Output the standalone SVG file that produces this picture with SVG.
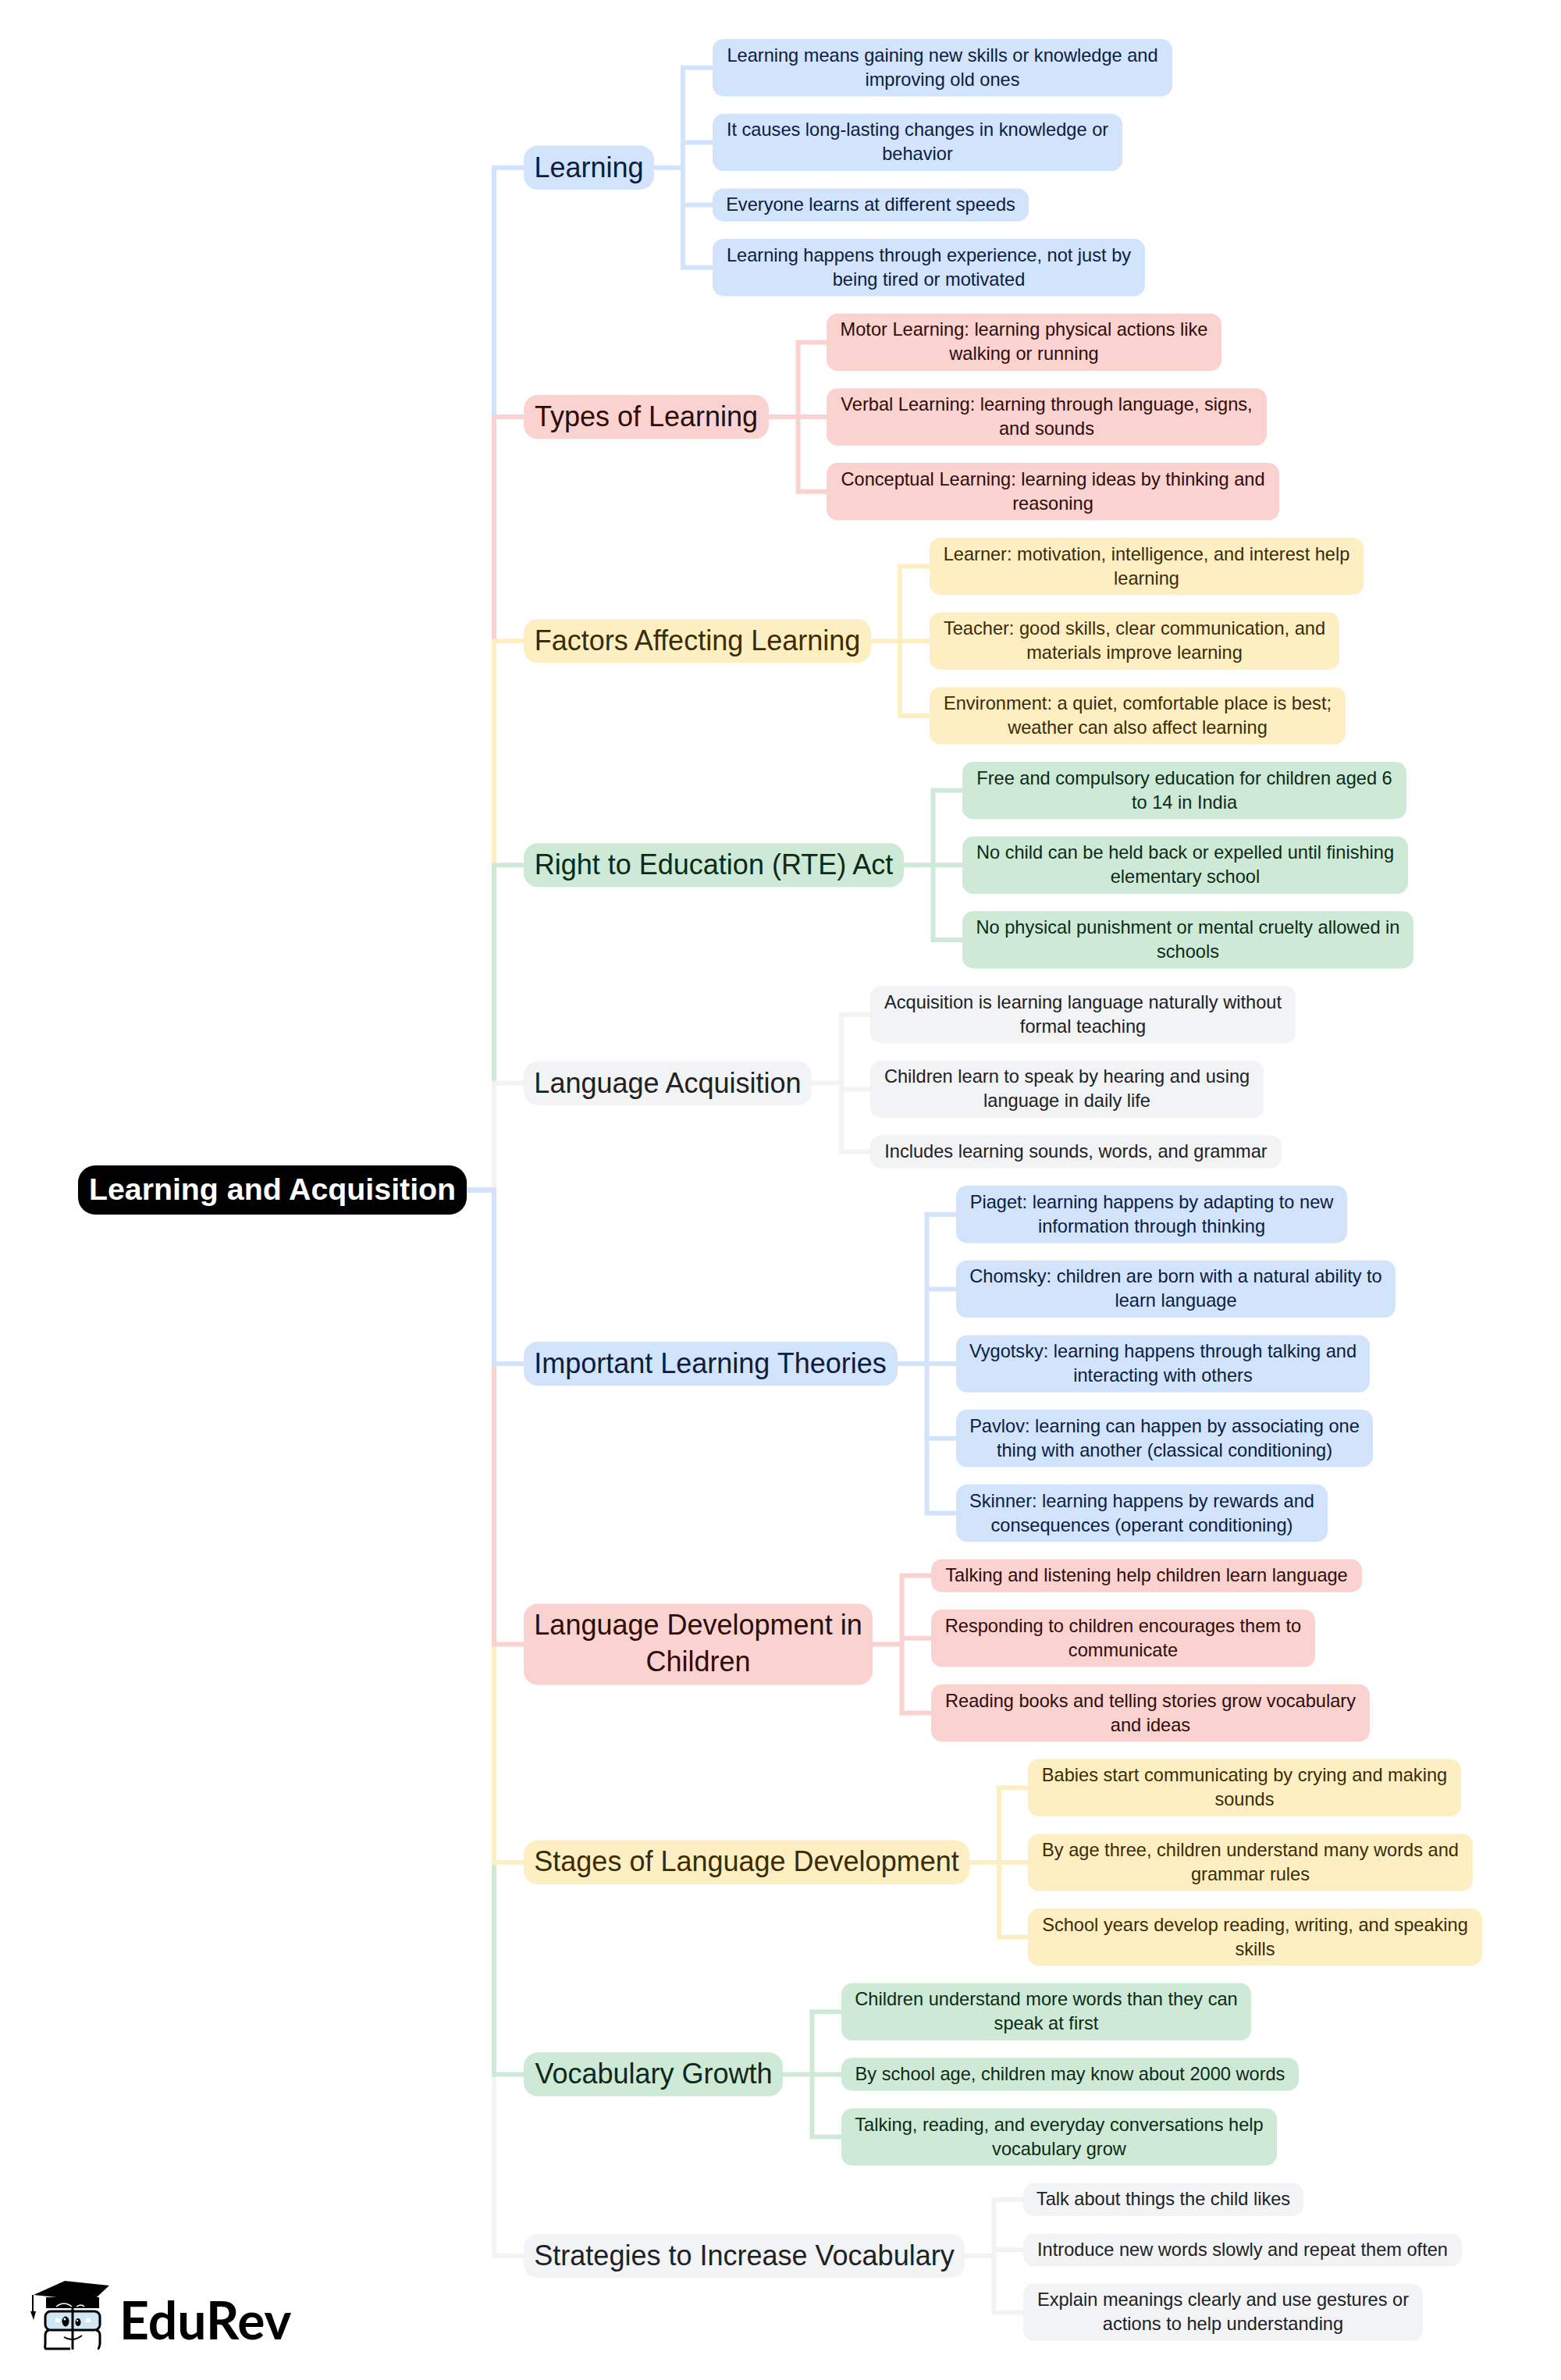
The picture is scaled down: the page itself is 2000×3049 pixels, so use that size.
<svg xmlns="http://www.w3.org/2000/svg" width="2000" height="3049" viewBox="0 0 2000 3049">
<style>
text{font-family:"Liberation Sans",Arial,sans-serif;text-anchor:middle}
.l{font-size:23.6px}.b{font-size:36px}
.root{font-size:39.3px;font-weight:700;fill:#fff}
.c{fill:none;stroke-width:6}
.cb{stroke:#d2e3fc}.cp{stroke:#fad2cf}.cy{stroke:#feefc3}.cg{stroke:#ceead6}.cn{stroke:#f1f3f4}
.nb rect{fill:#d2e3fc}.nb text{fill:#0b1d40}
.np rect{fill:#fad2cf}.np text{fill:#2e0d09}
.ny rect{fill:#feefc3}.ny text{fill:#3a2c05}
.ng rect{fill:#ceead6}.ng text{fill:#0d2a17}
.nn rect{fill:#f1f3f4}.nn text{fill:#202124}
</style>
<rect width="2000" height="3049" fill="#fff"/>
<g id="connectors">
<path class="c cb" d="M598 1524.500H633V214.700H671"/>
<path class="c cp" d="M598 1524.500H633V534.100H671"/>
<path class="c cy" d="M598 1524.500H633V821.200H671"/>
<path class="c cg" d="M598 1524.500H633V1108.300H671"/>
<path class="c cn" d="M598 1524.500H633V1387.600H671"/>
<path class="c cn" d="M598 1524.500H633V2890H671"/>
<path class="c cg" d="M598 1524.500H633V2657.400H671"/>
<path class="c cy" d="M598 1524.500H633V2385.900H671"/>
<path class="c cp" d="M598 1524.500H633V2106.500H671"/>
<path class="c cb" d="M598 1524.500H633V1747.100H671"/>
<path class="c cb" d="M838 214.700H875M913 86.700H875V342.700H913M875 182.400H913M875 262.500H913"/>
<path class="c cp" d="M985 534.100H1059M1059 438.400H1022.500V629.800H1059"/>
<path class="c cy" d="M1116 821.200H1191M1191 725.500H1153V916.900H1191"/>
<path class="c cg" d="M1158 1108.300H1233M1233 1012.600H1195.500V1204H1233"/>
<path class="c cn" d="M1040 1387.600H1078M1115 1299.700H1078V1475.500H1115M1078 1395.400H1115"/>
<path class="c cb" d="M1150 1747.100H1225M1225 1555.700H1187.500V1938.500H1225M1187.500 1651.400H1225M1187.500 1842.800H1225"/>
<path class="c cp" d="M1118 2106.500H1155.500M1193 2018.600H1155.500V2194.500H1193M1155.500 2098.800H1193"/>
<path class="c cy" d="M1242 2385.900H1317M1317 2290.200H1280V2481.600H1317"/>
<path class="c cg" d="M1003 2657.400H1078M1078 2577.300H1040.500V2737.600H1078"/>
<path class="c cn" d="M1236 2890H1273.500M1311 2817.700H1273.500V2962.500H1311M1273.500 2882.300H1311"/>
</g>
<g id="root"><rect x="100" y="1493" width="498" height="63" rx="22" fill="#000"/><text class="root" x="349" y="1537">Learning and Acquisition</text></g>

<g id="learning" class="nb"><rect x="671" y="186.600" width="167" height="56.300" rx="18"/><text class="b" x="754.5" y="226.500">Learning</text></g>
<g id="l1" class="nb"><rect x="913" y="50" width="589" height="73.400" rx="14"/><text class="l" x="1207.500" y="78.700">Learning means gaining new skills or knowledge and</text><text class="l" x="1207.500" y="109.700">improving old ones</text></g>
<g id="l2" class="nb"><rect x="913" y="145.700" width="525" height="73.400" rx="14"/><text class="l" x="1175.500" y="174.400">It causes long-lasting changes in knowledge or</text><text class="l" x="1175.500" y="205.400">behavior</text></g>
<g id="l3" class="nb"><rect x="913" y="241.400" width="405" height="42.300" rx="14"/><text class="l" x="1115.500" y="270.100">Everyone learns at different speeds</text></g>
<g id="l4" class="nb"><rect x="913" y="306" width="554" height="73.400" rx="14"/><text class="l" x="1190" y="334.700">Learning happens through experience, not just by</text><text class="l" x="1190" y="365.700">being tired or motivated</text></g>

<g id="types" class="np"><rect x="671" y="506" width="314" height="56.300" rx="18"/><text class="b" x="828" y="545.800">Types of Learning</text></g>
<g id="t1" class="np"><rect x="1059" y="401.700" width="506" height="73.400" rx="14"/><text class="l" x="1312" y="430.400">Motor Learning: learning physical actions like</text><text class="l" x="1312" y="461.400">walking or running</text></g>
<g id="t2" class="np"><rect x="1059" y="497.400" width="564" height="73.400" rx="14"/><text class="l" x="1341" y="526.100">Verbal Learning: learning through language, signs,</text><text class="l" x="1341" y="557.100">and sounds</text></g>
<g id="t3" class="np"><rect x="1059" y="593.100" width="580" height="73.400" rx="14"/><text class="l" x="1349" y="621.800">Conceptual Learning: learning ideas by thinking and</text><text class="l" x="1349" y="652.800">reasoning</text></g>

<g id="factors" class="ny"><rect x="671" y="793" width="445" height="56.300" rx="18"/><text class="b" x="893.500" y="832.800">Factors Affecting Learning</text></g>
<g id="f1" class="ny"><rect x="1191" y="688.800" width="556" height="73.400" rx="14"/><text class="l" x="1469" y="717.500">Learner: motivation, intelligence, and interest help</text><text class="l" x="1469" y="748.500">learning</text></g>
<g id="f2" class="ny"><rect x="1191" y="784.500" width="525" height="73.400" rx="14"/><text class="l" x="1453.500" y="813.200">Teacher: good skills, clear communication, and</text><text class="l" x="1453.500" y="844.200">materials improve learning</text></g>
<g id="f3" class="ny"><rect x="1191" y="880.200" width="533" height="73.400" rx="14"/><text class="l" x="1457.500" y="908.900">Environment: a quiet, comfortable place is best;</text><text class="l" x="1457.500" y="939.900">weather can also affect learning</text></g>

<g id="rte" class="ng"><rect x="671" y="1080.200" width="487" height="56.300" rx="18"/><text class="b" x="914.500" y="1120">Right to Education (RTE) Act</text></g>
<g id="r1" class="ng"><rect x="1233" y="975.900" width="569" height="73.400" rx="14"/><text class="l" x="1517.500" y="1004.600">Free and compulsory education for children aged 6</text><text class="l" x="1517.500" y="1035.600">to 14 in India</text></g>
<g id="r2" class="ng"><rect x="1233" y="1071.600" width="571" height="73.400" rx="14"/><text class="l" x="1518.500" y="1100.300">No child can be held back or expelled until finishing</text><text class="l" x="1518.500" y="1131.300">elementary school</text></g>
<g id="r3" class="ng"><rect x="1233" y="1167.300" width="578" height="73.400" rx="14"/><text class="l" x="1522" y="1196">No physical punishment or mental cruelty allowed in</text><text class="l" x="1522" y="1227">schools</text></g>

<g id="acq" class="nn"><rect x="671" y="1359.500" width="369" height="56.300" rx="18"/><text class="b" x="855.500" y="1399.500">Language Acquisition</text></g>
<g id="a1" class="nn"><rect x="1115" y="1263" width="545" height="73.400" rx="14"/><text class="l" x="1387.500" y="1291.700">Acquisition is learning language naturally without</text><text class="l" x="1387.500" y="1322.700">formal teaching</text></g>
<g id="a2" class="nn"><rect x="1115" y="1358.700" width="504" height="73.400" rx="14"/><text class="l" x="1367" y="1387.400">Children learn to speak by hearing and using</text><text class="l" x="1367" y="1418.400">language in daily life</text></g>
<g id="a3" class="nn"><rect x="1115" y="1454.400" width="527" height="42.300" rx="14"/><text class="l" x="1378.500" y="1483.100">Includes learning sounds, words, and grammar</text></g>

<g id="theories" class="nb"><rect x="671" y="1719" width="479" height="56.300" rx="18"/><text class="b" x="910" y="1758.800">Important Learning Theories</text></g>
<g id="p1" class="nb"><rect x="1225" y="1519" width="501" height="73.400" rx="14"/><text class="l" x="1475.500" y="1547.700">Piaget: learning happens by adapting to new</text><text class="l" x="1475.500" y="1578.700">information through thinking</text></g>
<g id="p2" class="nb"><rect x="1225" y="1614.700" width="563" height="73.400" rx="14"/><text class="l" x="1506.500" y="1643.400">Chomsky: children are born with a natural ability to</text><text class="l" x="1506.500" y="1674.400">learn language</text></g>
<g id="p3" class="nb"><rect x="1225" y="1710.400" width="530" height="73.400" rx="14"/><text class="l" x="1490" y="1739.100">Vygotsky: learning happens through talking and</text><text class="l" x="1490" y="1770.100">interacting with others</text></g>
<g id="p4" class="nb"><rect x="1225" y="1806.100" width="534" height="73.400" rx="14"/><text class="l" x="1492" y="1834.800">Pavlov: learning can happen by associating one</text><text class="l" x="1492" y="1865.800">thing with another (classical conditioning)</text></g>
<g id="p5" class="nb"><rect x="1225" y="1901.800" width="476" height="73.400" rx="14"/><text class="l" x="1463" y="1930.500">Skinner: learning happens by rewards and</text><text class="l" x="1463" y="1961.500">consequences (operant conditioning)</text></g>

<g id="langdev" class="np"><rect x="671" y="2054.500" width="447" height="104" rx="18"/><text class="b" x="894.500" y="2094">Language Development in</text><text class="b" x="894.500" y="2141">Children</text></g>
<g id="d1" class="np"><rect x="1193" y="1997.500" width="552" height="42.300" rx="14"/><text class="l" x="1469" y="2026.200">Talking and listening help children learn language</text></g>
<g id="d2" class="np"><rect x="1193" y="2062.100" width="492" height="73.400" rx="14"/><text class="l" x="1439" y="2090.800">Responding to children encourages them to</text><text class="l" x="1439" y="2121.800">communicate</text></g>
<g id="d3" class="np"><rect x="1193" y="2157.800" width="562" height="73.400" rx="14"/><text class="l" x="1474" y="2186.500">Reading books and telling stories grow vocabulary</text><text class="l" x="1474" y="2217.500">and ideas</text></g>

<g id="stages" class="ny"><rect x="671" y="2357.600" width="571" height="56.300" rx="18"/><text class="b" x="956.500" y="2397">Stages of Language Development</text></g>
<g id="s1" class="ny"><rect x="1317" y="2253.500" width="555" height="73.400" rx="14"/><text class="l" x="1594.500" y="2282.200">Babies start communicating by crying and making</text><text class="l" x="1594.500" y="2313.200">sounds</text></g>
<g id="s2" class="ny"><rect x="1317" y="2349.200" width="570" height="73.400" rx="14"/><text class="l" x="1602" y="2377.900">By age three, children understand many words and</text><text class="l" x="1602" y="2408.900">grammar rules</text></g>
<g id="s3" class="ny"><rect x="1317" y="2444.900" width="582" height="73.400" rx="14"/><text class="l" x="1608" y="2473.600">School years develop reading, writing, and speaking</text><text class="l" x="1608" y="2504.600">skills</text></g>

<g id="vocab" class="ng"><rect x="671" y="2629.300" width="332" height="56.300" rx="18"/><text class="b" x="837.500" y="2669">Vocabulary Growth</text></g>
<g id="v1" class="ng"><rect x="1078" y="2540.600" width="525" height="73.400" rx="14"/><text class="l" x="1340.500" y="2569.300">Children understand more words than they can</text><text class="l" x="1340.500" y="2600.300">speak at first</text></g>
<g id="v2" class="ng"><rect x="1078" y="2636.300" width="586" height="42.300" rx="14"/><text class="l" x="1371" y="2665">By school age, children may know about 2000 words</text></g>
<g id="v3" class="ng"><rect x="1078" y="2700.900" width="558" height="73.400" rx="14"/><text class="l" x="1357" y="2729.600">Talking, reading, and everyday conversations help</text><text class="l" x="1357" y="2760.600">vocabulary grow</text></g>

<g id="strategies" class="nn"><rect x="671" y="2861.900" width="565" height="56.300" rx="18"/><text class="b" x="953.500" y="2901.500">Strategies to Increase Vocabulary</text></g>
<g id="st1" class="nn"><rect x="1311" y="2796.600" width="359" height="42.300" rx="14"/><text class="l" x="1490.500" y="2825.300">Talk about things the child likes</text></g>
<g id="st2" class="nn"><rect x="1311" y="2861.200" width="562" height="42.300" rx="14"/><text class="l" x="1592" y="2889.900">Introduce new words slowly and repeat them often</text></g>
<g id="st3" class="nn"><rect x="1311" y="2925.400" width="512" height="73.400" rx="14"/><text class="l" x="1567" y="2954">Explain meanings clearly and use gestures or</text><text class="l" x="1567" y="2985">actions to help understanding</text></g>

<g id="logo">
<path d="M59 2943H127V2957H59Z" fill="#000"/>
<path d="M43 2940L83 2922L140 2928L113 2953L83 2944Z" fill="#000"/>
<path d="M42 2940V2962" stroke="#000" stroke-width="2" fill="none"/>
<path d="M39 2961H46L43 2972Z" fill="#000"/>
<path d="M72 2955Q82 2947 92 2955M98 2955Q104 2951 108 2955" stroke="#fff" stroke-width="1.500" fill="none"/>
<rect x="58" y="2961" width="70" height="24" rx="7" fill="#cfe6f5" stroke="#000" stroke-width="3"/>
<path d="M66 3009H59Q57 3009 58 3003V2992Q58 2986 63 2985M123 2985Q128 2986 128 2992V3003Q127 3009 125 3009M59 3009H90" stroke="#000" stroke-width="3" fill="none"/>
<path d="M93 2955V3010" stroke="#000" stroke-width="3"/>
<ellipse cx="84" cy="2974" rx="4.500" ry="6.500" fill="#000"/><ellipse cx="100" cy="2975" rx="3.500" ry="5" fill="#000"/>
<circle cx="83" cy="2971" r="1.500" fill="#fff"/><circle cx="99" cy="2973" r="1.200" fill="#fff"/>
<rect x="71" y="2970" width="6" height="5" fill="#fff"/><rect x="110" y="2970" width="6" height="5" fill="#fff"/>
<path d="M82 2994Q93 3001 105 2992" stroke="#000" stroke-width="2" fill="none"/>
<text x="153" y="2997" style="font-family:Lato,sans-serif;font-weight:700;font-size:66px;text-anchor:start;fill:#000">EduRev</text>
</g>
</svg>
